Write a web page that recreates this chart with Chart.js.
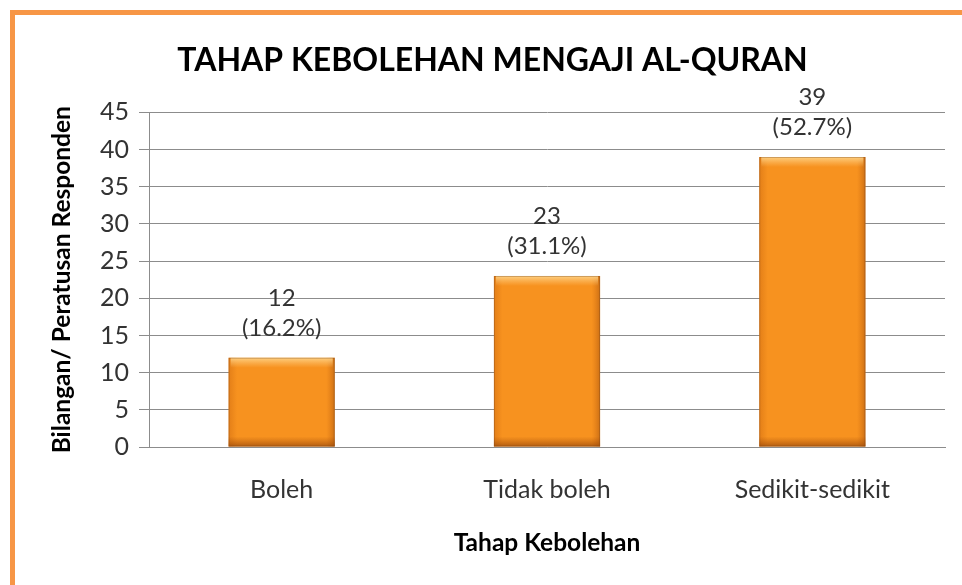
<!DOCTYPE html>
<html>
<head>
<meta charset="utf-8">
<script src="https://cdn.jsdelivr.net/npm/chart.js@4.4.0/dist/chart.umd.min.js"></script>
<style>
    html, body { margin: 0; padding: 0; background: #fff; overflow: hidden; }
    #frame {
        position: absolute; left: 10px; top: 10px;
        width: 1000px; height: 640px;
        border: 5px solid #F79646; box-sizing: border-box;
    }
    #wrap { position: absolute; left: 0; top: 0; width: 962px; height: 585px; }
</style>
</head>
<body>
<div id="frame"></div>
<div id="wrap"><canvas id="chart" width="962" height="585"></canvas></div>
<script>
const categories = ['Boleh', 'Tidak boleh', 'Sedikit-sedikit'];
const counts = [12, 23, 39];
const percents = ['16.2%', '31.1%', '52.7%'];
const yTicks = [0, 5, 10, 15, 20, 25, 30, 35, 40, 45];

const FONT = 'Lato, "Open Sans", sans-serif';

// two-line value labels + bevel shading on top of each bar
const barDecor = {
    id: 'barDecor',
    afterDatasetsDraw(chart) {
        const ctx = chart.ctx;
        const meta = chart.getDatasetMeta(0);
        meta.data.forEach((bar, i) => {
            const left = bar.x - bar.width / 2;
            const right = bar.x + bar.width / 2;
            const top = bar.y;
            const bottom = bar.base;
            ctx.save();
            // side shading
            const hg = ctx.createLinearGradient(left, 0, right, 0);
            hg.addColorStop(0, 'rgba(190,90,10,0.35)');
            hg.addColorStop(0.08, 'rgba(190,90,10,0.0)');
            hg.addColorStop(0.92, 'rgba(190,90,10,0.0)');
            hg.addColorStop(1, 'rgba(150,70,10,0.45)');
            ctx.fillStyle = hg;
            ctx.fillRect(left, top, right - left, bottom - top);
            // top highlight
            const tg = ctx.createLinearGradient(0, top, 0, top + 10);
            tg.addColorStop(0, 'rgba(255,215,140,0.9)');
            tg.addColorStop(1, 'rgba(255,200,120,0)');
            ctx.fillStyle = tg;
            ctx.fillRect(left + 2, top, right - left - 4, 10);
            // bottom dark edge
            const bg = ctx.createLinearGradient(0, bottom - 10, 0, bottom);
            bg.addColorStop(0, 'rgba(170,80,10,0)');
            bg.addColorStop(1, 'rgba(150,70,10,0.7)');
            ctx.fillStyle = bg;
            ctx.fillRect(left, bottom - 10, right - left, 10);
            ctx.strokeStyle = 'rgba(120,70,30,0.35)';
            ctx.lineWidth = 1;
            ctx.strokeRect(left + 0.5, top + 0.5, right - left - 1, bottom - top - 1);
            ctx.restore();

            ctx.save();
            ctx.fillStyle = '#333';
            ctx.font = '24px ' + FONT;
            ctx.textAlign = 'center';
            ctx.textBaseline = 'middle';
            ctx.fillText(String(counts[i]), bar.x, top - 60);
            ctx.fillText('(' + percents[i] + ')', bar.x, top - 30);
            ctx.restore();
        });
    }
};

new Chart(document.getElementById('chart'), {
    type: 'bar',
    data: {
        labels: categories,
        datasets: [{
            data: counts,
            backgroundColor: '#F7921F',
            borderWidth: 0,
            categoryPercentage: 1,
            barPercentage: 0.4
        }]
    },
    options: {
        responsive: false,
        animation: false,
        layout: { padding: { top: 0, left: 40, right: 17, bottom: 0 } },
        plugins: {
            legend: { display: false },
            tooltip: { enabled: false },
            title: {
                display: true,
                text: 'TAHAP KEBOLEHAN MENGAJI AL-QURAN',
                color: '#000',
                font: { family: FONT, size: 32, weight: 'bold' },
                padding: { top: 41, bottom: 33 }
            }
        },
        scales: {
            x: {
                grid: { display: false, drawTicks: false },
                border: { display: true, color: '#8c8c8c', width: 1 },
                ticks: { color: '#333', font: { family: FONT, size: 25 }, padding: 28 },
                title: {
                    display: true,
                    text: 'Tahap Kebolehan',
                    color: '#000',
                    font: { family: FONT, size: 24.5, weight: 'bold' },
                    padding: { top: 0, bottom: 27 }
                },
                afterFit(scale) { scale.height = 138; }
            },
            y: {
                min: 0,
                max: 45,
                afterBuildTicks(scale) { scale.ticks = yTicks.map(v => ({ value: v })); },
                grid: { color: '#8c8c8c', tickLength: 10, tickColor: '#8c8c8c' },
                border: { display: true, color: '#8c8c8c' },
                ticks: { color: '#333', font: { family: FONT, size: 25 }, padding: 10 },
                title: {
                    display: true,
                    text: 'Bilangan/ Peratusan Responden',
                    color: '#000',
                    font: { family: FONT, size: 24.5, weight: 'bold' },
                    padding: { top: 7, bottom: 0 }
                },
                afterFit(scale) { scale.width = 109; }
            }
        }
    },
    plugins: [barDecor]
});
</script>
</body>
</html>
